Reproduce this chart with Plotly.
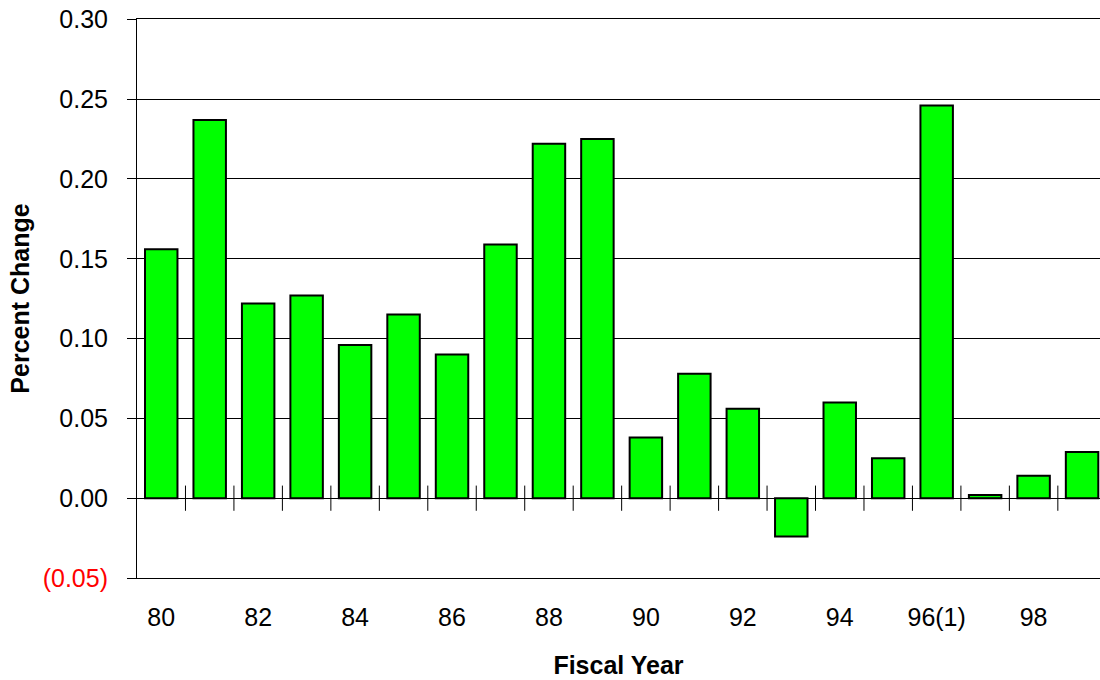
import plotly.graph_objects as go

years = ["80", "81", "82", "83", "84", "85", "86", "87", "88", "89",
         "90", "91", "92", "93", "94", "95", "96(1)", "97", "98", "99"]
pct_change = [0.156, 0.237, 0.122, 0.127, 0.096, 0.115, 0.090, 0.159, 0.222, 0.225,
              0.038, 0.078, 0.056, -0.024, 0.060, 0.025, 0.246, 0.002, 0.014, 0.029]
y_ticks = [-0.05, 0.0, 0.05, 0.10, 0.15, 0.20, 0.25, 0.30]
y_labels = ['<span style="color:#ff0000">(0.05)</span>', "0.00", "0.05", "0.10",
            "0.15", "0.20", "0.25", "0.30"]

xpos = list(range(len(years)))
FONT = "Liberation Sans, Arial, sans-serif"

fig = go.Figure()
fig.add_trace(go.Bar(
    x=xpos, y=pct_change, width=0.67,
    marker=dict(color="#00ff00", line=dict(color="black", width=2)),
    showlegend=False))

# tick marks crossing the zero line between categories
fig.add_trace(go.Scatter(
    x=[i + 0.5 for i in xpos[:-1]], y=[0] * (len(xpos) - 1),
    mode="markers",
    marker=dict(symbol="line-ns-open", size=18, color="black",
                line=dict(color="black", width=1)),
    showlegend=False, hoverinfo="skip"))

fig.update_layout(
    width=1100, height=680,
    margin=dict(l=137, r=0, t=19, b=102),
    paper_bgcolor="white", plot_bgcolor="white",
    font=dict(family=FONT, size=25, color="black"),
)
fig.update_xaxes(
    range=[-0.5, 19.37],
    tickvals=xpos[::2], ticktext=years[::2],
    ticks="", showgrid=False, zeroline=False,
    showline=True, mirror=True, linecolor="black", linewidth=1,
    ticklabelstandoff=17,
    title=dict(text="<b>Fiscal Year</b>", font=dict(size=25), standoff=26),
)
fig.update_yaxes(
    range=[-0.05, 0.3002],
    tickvals=y_ticks, ticktext=y_labels,
    ticks="outside", ticklen=9, tickcolor="black",
    showgrid=True, gridcolor="black", gridwidth=1,
    zeroline=True, zerolinecolor="black", zerolinewidth=1,
    showline=True, linecolor="black", linewidth=1,
    ticklabelstandoff=14,
    title=dict(text="<b>Percent Change</b>", font=dict(size=25), standoff=5),
)

# drop the default page margin so the figure fills the window exactly
fig.write_html("out.html",
               config={"displayModeBar": False},
               post_script="document.body.style.margin='0';"
                           "document.body.style.overflow='hidden';")
